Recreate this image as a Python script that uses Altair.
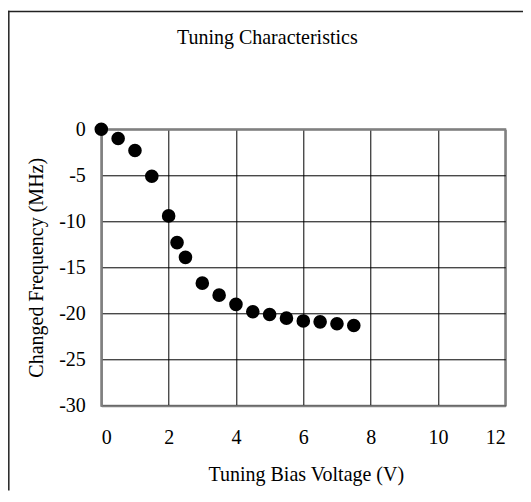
import altair as alt
import pandas as pd

voltage = [0, 0.5, 1, 1.5, 2, 2.25, 2.5, 3, 3.5, 4, 4.5, 5, 5.5, 6, 6.5, 7, 7.5]
freq = [0, -1.0, -2.3, -5.1, -9.4, -12.3, -13.9, -16.7, -18.0, -19.0, -19.8,
        -20.1, -20.5, -20.8, -20.9, -21.1, -21.3]
x_ticks = [0, 2, 4, 6, 8, 10, 12]
y_ticks = [0, -5, -10, -15, -20, -25, -30]

df = pd.DataFrame({"v": voltage, "f": freq})
FONT = "Liberation Serif"
GRAY = "#808080"

x_axis = alt.Axis(
    values=x_ticks, title="Tuning Bias Voltage (V)", grid=True,
    gridColor={"condition": {"test": "datum.value == 12", "value": GRAY}, "value": "black"},
    gridWidth={"condition": {"test": "datum.value == 12", "value": 2}, "value": 1},
    domainColor=GRAY, domainWidth=2, ticks=False, tickSize=0,
    labelExpr="'' + datum.value",
    labelFont=FONT, labelFontSize=20, labelColor="black", labelPadding=21.5,
    titleFont=FONT, titleFontSize=20, titleFontWeight="normal", titleColor="black",
    titleX=204.5, titleY=75.3, titleBaseline="alphabetic", titleAlign="center",
)
y_axis = alt.Axis(
    values=y_ticks, title="Changed Frequency (MHz)", grid=True,
    gridColor={"condition": {"test": "datum.value == 0", "value": GRAY}, "value": "black"},
    gridWidth={"condition": {"test": "datum.value == 0", "value": 2}, "value": 1},
    domainColor=GRAY, domainWidth=2, ticks=False, tickSize=0,
    labelExpr="'' + datum.value",
    labelFont=FONT, labelFontSize=20, labelColor="black", labelPadding=16,
    titleFont=FONT, titleFontSize=20, titleFontWeight="normal", titleColor="black",
    titleX=-59, titleY=138, titleAngle=-90, titleBaseline="alphabetic", titleAlign="center",
)

points = alt.Chart(df).mark_circle(size=185, color="black", opacity=1).encode(
    x=alt.X("v:Q", scale=alt.Scale(domain=[0, 12], nice=False), axis=x_axis),
    y=alt.Y("f:Q", scale=alt.Scale(domain=[-30, 0], nice=False), axis=y_axis),
)

frame_df = pd.DataFrame({"a": [0]})
top_border = alt.Chart(frame_df).mark_rule(color="#222", strokeWidth=1.5).encode(
    x=alt.value(-93.3), x2=alt.value(421.7), y=alt.value(-117.8)
)
left_border = alt.Chart(frame_df).mark_rule(color="#222", strokeWidth=1.5).encode(
    x=alt.value(-92.5), y=alt.value(-118.5), y2=alt.value(361.3)
)

chart = alt.layer(top_border, left_border, points).properties(
    width=404, height=276.4,
    title=alt.TitleParams(
        "Tuning Characteristics", font=FONT, fontSize=20, fontWeight="normal",
        color="black", anchor="middle", baseline="alphabetic", offset=-54, dx=-36,
    ),
    autosize=alt.AutoSizeParams(type="none"),
    padding={"left": 93.3, "top": 121.3, "right": 17.5, "bottom": 85},
    background="white",
).configure_view(stroke=GRAY, strokeWidth=2)

chart.save("out.html", embed_options={"renderer": "svg", "actions": False})
